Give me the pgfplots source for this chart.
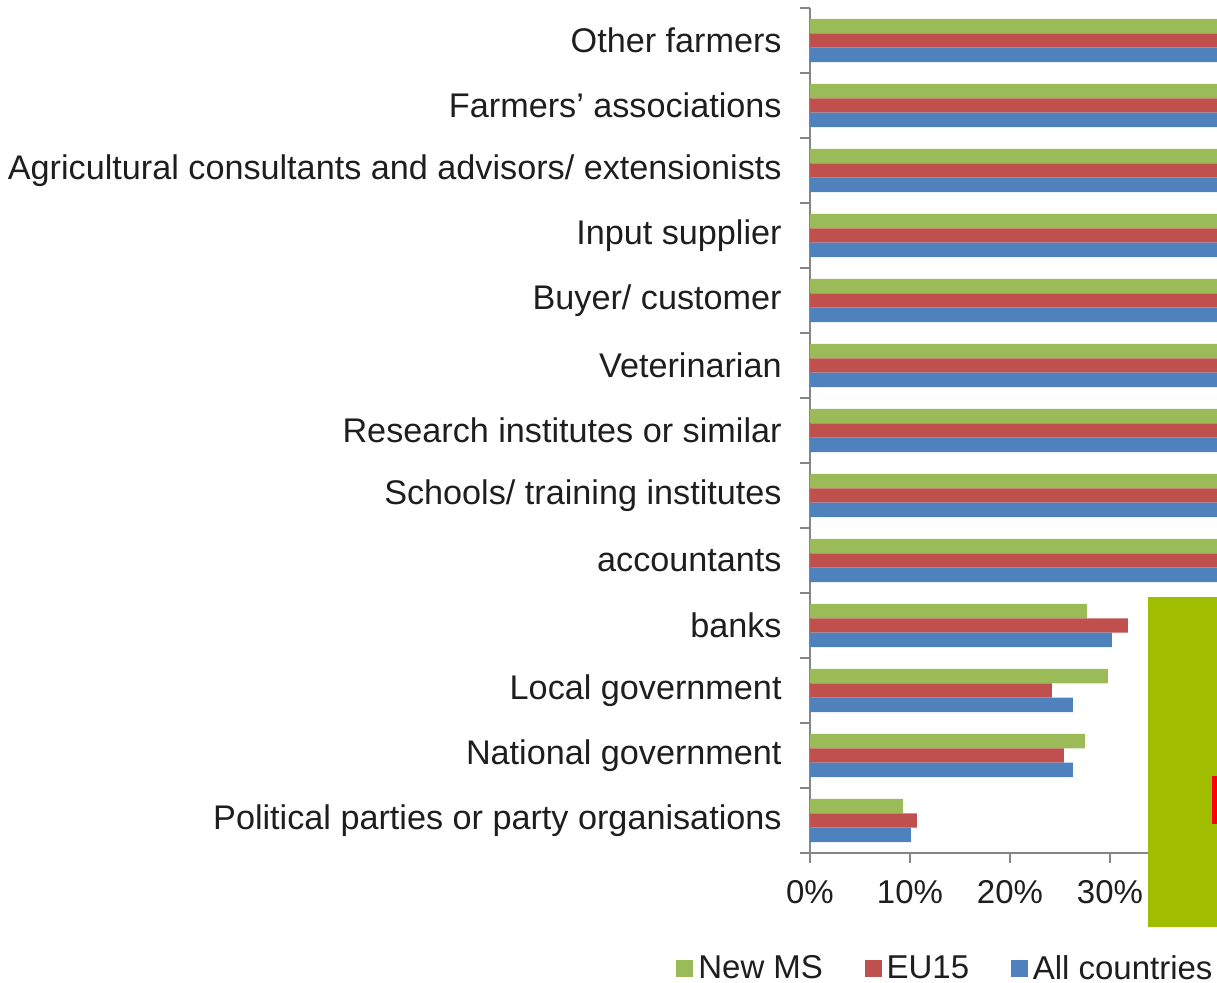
\documentclass[border=0pt]{standalone}
\usepackage{fontspec}
\setmainfont{Liberation Sans}
\usepackage{pgfplots}
\pgfplotsset{compat=1.18}
\definecolor{cgreen}{RGB}{155,187,89}
\definecolor{cred}{RGB}{192,80,77}
\definecolor{cblue}{RGB}{79,129,189}
\definecolor{axisgray}{RGB}{134,134,134}
\definecolor{textgray}{RGB}{30,30,30}
\definecolor{boxgreen}{RGB}{161,189,0}
\begin{document}
\begin{tikzpicture}
\path[use as bounding box] (0,0) rectangle (608.5pt,491.5pt);
\clip (0,0) rectangle (608.5pt,491.5pt);
\begin{axis}[
  at={(405pt,65pt)}, anchor=south west,
  scale only axis, width=203.5pt, height=422.5pt,
  xbar, bar width=7.2pt,
  xmin=0, xmax=40.7, ymin=-0.5, ymax=12.5,
  axis lines*=left,
  axis line style={draw=axisgray, line width=0.75pt},
  tick align=outside,
  major tick length=5pt,
  xtick={0,10,20,30,40},
  xticklabels={0\%,10\%,20\%,30\%,40\%},
  xtick style={draw=axisgray, line width=0.75pt},
  ytick={0,...,12},
  yticklabels={Political parties or party organisations, National government, Local government, banks, accountants, Schools/ training institutes, Research institutes or similar, Veterinarian, Buyer/ customer, Input supplier, Agricultural consultants and advisors/ extensionists, Farmers’ associations, Other farmers},
  ytick style={draw=none},
  extra y ticks={-0.5,0.5,...,12.5},
  extra y tick labels={},
  extra y tick style={ytick style={draw=axisgray, line width=0.75pt}},
  ticklabel style={font=\fontsize{16.5}{19}\selectfont, text=textgray},
  yticklabel style={anchor=east, inner sep=0pt, xshift=-9pt, font=\fontsize{17.1}{20}\selectfont},
  xticklabel style={anchor=north, inner sep=0pt, yshift=-8.5pt},
  legend columns=3,
  legend image code/.code={\fill[#1] (0pt,-4.25pt) rectangle (8.5pt,4.25pt);},
  legend style={at={(0.99,-0.137)}, anchor=east, draw=none, fill=none, inner sep=0pt,
    font=\fontsize{16.5}{19}\selectfont, text=textgray,
    nodes={inner sep=0pt},
    /tikz/every odd column/.append style={column sep=2.5pt},
    /tikz/every even column/.append style={column sep=20.8pt}},
]
\addplot[fill=cgreen, draw=none, bar shift=7.2pt] coordinates {
  (9.3,0) (27.5,1) (29.8,2) (27.7,3) (42,4) (48,5) (50,6) (55,7) (58,8) (60,9) (65,10) (68,11) (80,12)};
\addlegendentry{New MS}
\addplot[fill=cred, draw=none, bar shift=0pt] coordinates {
  (10.7,0) (25.4,1) (24.2,2) (31.8,3) (45,4) (46,5) (52,6) (60,7) (62,8) (65,9) (70,10) (72,11) (82,12)};
\addlegendentry{EU15}
\addplot[fill=cblue, draw=none, bar shift=-7.2pt] coordinates {
  (10.1,0) (26.3,1) (26.3,2) (30.2,3) (44,4) (47,5) (51,6) (58,7) (60,8) (63,9) (68,10) (70,11) (81,12)};
\addlegendentry{All countries}
\end{axis}
\fill[boxgreen] (574pt,28pt) rectangle (608.5pt,193pt);
\fill[red] (606pt,79.5pt) rectangle (608.5pt,103.5pt);
\end{tikzpicture}
\end{document}
